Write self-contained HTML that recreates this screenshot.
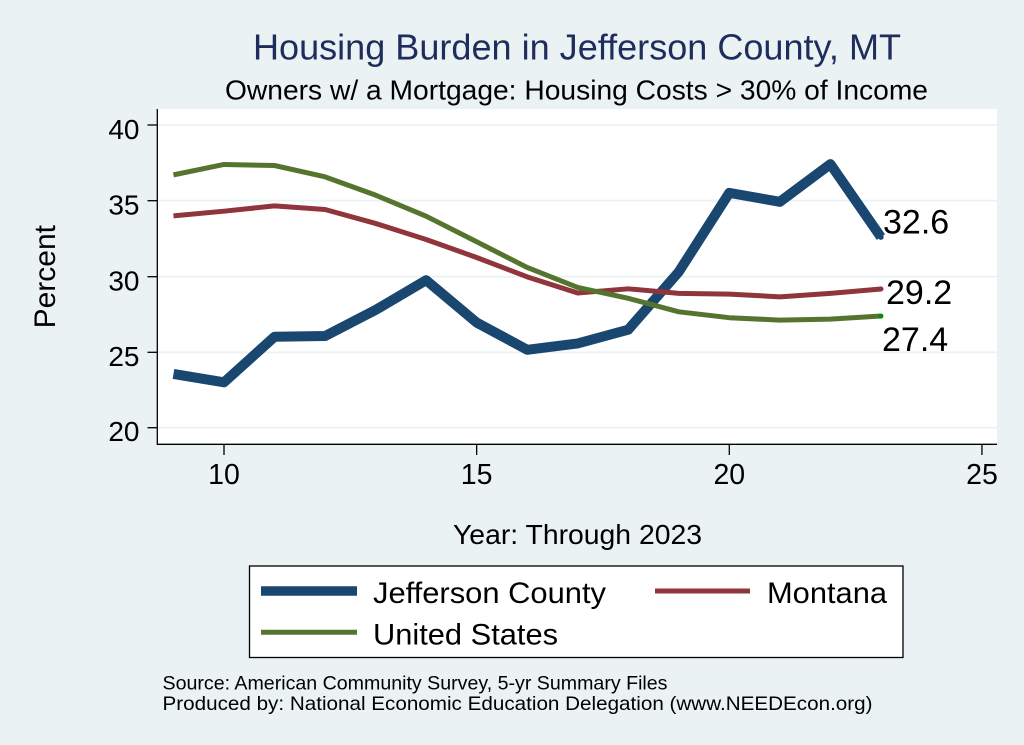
<!DOCTYPE html>
<html>
<head>
<meta charset="utf-8">
<style>
  html, body { margin: 0; padding: 0; background: #eaf2f3; }
  svg { display: block; }
  text { font-family: "Liberation Sans", Arial, Helvetica, sans-serif; }
</style>
</head>
<body>
<svg width="1024" height="745" viewBox="0 0 1024 745" xmlns="http://www.w3.org/2000/svg">
  <rect x="0" y="0" width="1024" height="745" fill="#eaf2f3"/>

  <!-- Title -->
  <text x="253" y="59.3" font-size="36" fill="#1f2d5d" textLength="648" lengthAdjust="spacingAndGlyphs">Housing Burden in Jefferson County, MT</text>
  <text x="225" y="99.3" font-size="28" fill="#000" textLength="703" lengthAdjust="spacingAndGlyphs">Owners w/ a Mortgage: Housing Costs &gt; 30% of Income</text>

  <!-- Plot region -->
  <rect x="157.3" y="109" width="839.7" height="335.3" fill="#ffffff"/>

  <!-- Gridlines -->
  <g stroke="#eaf2f3" stroke-width="1.8">
    <line x1="158" y1="125" x2="997" y2="125"/>
    <line x1="158" y1="200.7" x2="997" y2="200.7"/>
    <line x1="158" y1="276.7" x2="997" y2="276.7"/>
    <line x1="158" y1="352.3" x2="997" y2="352.3"/>
    <line x1="158" y1="427.7" x2="997" y2="427.7"/>
  </g>

  <!-- Axes -->
  <g stroke="#000" stroke-width="1.3" fill="none">
    <line x1="157.3" y1="109" x2="157.3" y2="444.3"/>
    <line x1="156.7" y1="444.3" x2="997" y2="444.3"/>
    <line x1="147.5" y1="125" x2="157.3" y2="125"/>
    <line x1="147.5" y1="200.7" x2="157.3" y2="200.7"/>
    <line x1="147.5" y1="276.7" x2="157.3" y2="276.7"/>
    <line x1="147.5" y1="352.3" x2="157.3" y2="352.3"/>
    <line x1="147.5" y1="427.7" x2="157.3" y2="427.7"/>
    <line x1="224" y1="444.3" x2="224" y2="455"/>
    <line x1="476.65" y1="444.3" x2="476.65" y2="455"/>
    <line x1="729.3" y1="444.3" x2="729.3" y2="455"/>
    <line x1="981.95" y1="444.3" x2="981.95" y2="455"/>
  </g>

  <!-- Y tick labels -->
  <g font-size="28" fill="#000" text-anchor="end">
    <text x="139.5" y="139">40</text>
    <text x="139.5" y="214.5">35</text>
    <text x="139.5" y="290.3">30</text>
    <text x="139.5" y="366">25</text>
    <text x="139.5" y="441">20</text>
  </g>

  <!-- X tick labels -->
  <g font-size="28.5" fill="#000" text-anchor="middle">
    <text x="224" y="484">10</text>
    <text x="476.65" y="484">15</text>
    <text x="729.3" y="484">20</text>
    <text x="981.95" y="484">25</text>
  </g>

  <!-- Axis titles -->
  <text x="577.5" y="544" font-size="28" fill="#000" text-anchor="middle" textLength="249" lengthAdjust="spacingAndGlyphs">Year: Through 2023</text>
  <text transform="translate(55,276.7) rotate(-90)" x="0" y="0" font-size="30" fill="#000" text-anchor="middle">Percent</text>

  <!-- Series: Jefferson County -->
  <polyline fill="none" stroke="#1a476f" stroke-width="10" stroke-linejoin="round" stroke-linecap="butt"
    points="173.47,373.99 224,382.31 274.53,336.77 325.06,336.01 375.59,309.99 426.12,280.18 476.65,322.55 527.18,349.78 577.71,343.43 628.24,329.66 678.77,271.86 729.3,192.88 779.83,201.81 830.36,164.13 880.89,237.06"/>

  <!-- Series: Montana -->
  <polyline fill="none" stroke="#90353b" stroke-width="5" stroke-linejoin="round" stroke-linecap="butt"
    points="173.47,215.88 224,211.19 274.53,205.89 325.06,209.52 375.59,223.44 426.12,239.48 476.65,257.49 527.18,276.85 577.71,293.04 628.24,288.81 678.77,293.35 729.3,294.1 779.83,296.83 830.36,293.35 880.89,288.96"/>

  <!-- Series: United States -->
  <polyline fill="none" stroke="#55752f" stroke-width="5" stroke-linejoin="round" stroke-linecap="butt"
    points="173.47,174.88 224,164.44 274.53,165.5 325.06,176.84 375.59,195.15 426.12,216.18 476.65,241.75 527.18,267.47 577.71,287.44 628.24,298.34 678.77,311.8 729.3,317.7 779.83,320.12 830.36,319.07 880.89,316.04"/>

  <!-- End markers -->
  <circle cx="880.89" cy="237.06" r="2.8" fill="#1a476f"/>
  <circle cx="880.89" cy="288.96" r="2.6" fill="#90353b"/>
  <circle cx="880.89" cy="316.04" r="2.6" fill="#0a8a0a"/>

  <!-- End labels -->
  <g font-size="34" fill="#000">
    <text x="883" y="233.3">32.6</text>
    <text x="886" y="304">29.2</text>
    <text x="882" y="351">27.4</text>
  </g>

  <!-- Legend -->
  <rect x="249.5" y="566" width="653.5" height="91.5" fill="#ffffff" stroke="#000" stroke-width="1.3"/>
  <line x1="261" y1="591" x2="357" y2="591" stroke="#1a476f" stroke-width="9.5"/>
  <line x1="655" y1="591" x2="750" y2="591" stroke="#90353b" stroke-width="5"/>
  <line x1="261" y1="632.3" x2="357" y2="632.3" stroke="#55752f" stroke-width="5"/>
  <g font-size="30" fill="#000">
    <text x="373" y="603" textLength="233" lengthAdjust="spacingAndGlyphs">Jefferson County</text>
    <text x="767" y="603" textLength="120" lengthAdjust="spacingAndGlyphs">Montana</text>
    <text x="373" y="644.5" textLength="185" lengthAdjust="spacingAndGlyphs">United States</text>
  </g>

  <!-- Notes -->
  <g font-size="19.5" fill="#000">
    <text x="162.5" y="689.3" textLength="505" lengthAdjust="spacingAndGlyphs">Source: American Community Survey, 5-yr Summary Files</text>
    <text x="162.5" y="710" textLength="710" lengthAdjust="spacingAndGlyphs">Produced by: National Economic Education Delegation (www.NEEDEcon.org)</text>
  </g>
</svg>
</body>
</html>
